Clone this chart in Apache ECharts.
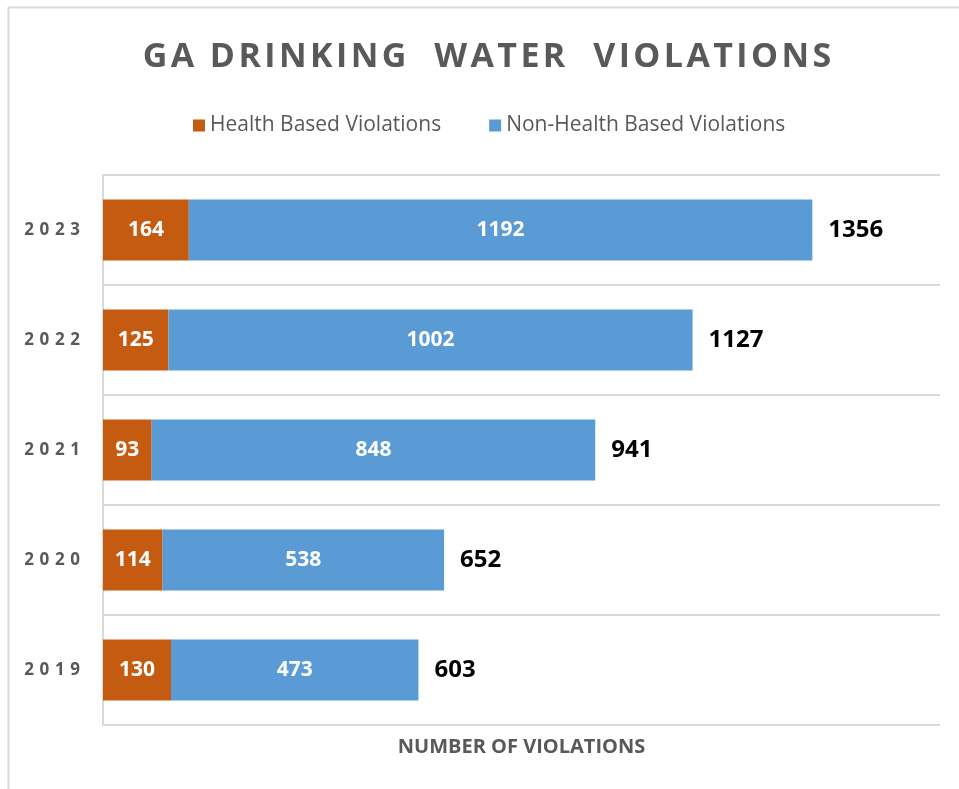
<!DOCTYPE html>
<html>
<head>
<meta charset="utf-8">
<script src="https://cdn.jsdelivr.net/npm/echarts@6/dist/echarts.min.js"></script>
<style>
  html, body { margin: 0; padding: 0; background: #fff; }
  #chart { width: 959px; height: 789px; }
</style>
</head>
<body>
<div id="chart"></div>
<script>
const years = ["2019", "2020", "2021", "2022", "2023"];
const healthBased = [130, 114, 93, 125, 164];
const nonHealthBased = [473, 538, 848, 1002, 1192];
const totals = years.map((y, i) => healthBased[i] + nonHealthBased[i]);

// spread letters out a bit, the original uses wide letter spacing
const spread = (s, sp) => s.split("").join(sp);

const myChart = echarts.init(document.getElementById("chart"));
const option = {
  backgroundColor: "#fff",
  animation: false,
  textStyle: { fontFamily: "Open Sans" },
  graphic: [
    // frame edges of the original chart box (top + left)
    { type: "line", shape: { x1: 8, y1: 7.5, x2: 959, y2: 7.5 }, style: { stroke: "#d9d9d9", lineWidth: 2 } },
    { type: "line", shape: { x1: 8.5, y1: 7, x2: 8.5, y2: 789 }, style: { stroke: "#d9d9d9", lineWidth: 2 } },
  ],
  title: {
    text: spread("GA DRINKING  WATER  VIOLATIONS", "\u200A"),
    left: 482,
    textAlign: "center",
    top: 35,
    textStyle: {
      color: "#595959",
      fontSize: 34,
      fontWeight: "bold",
      fontFamily: "Open Sans",
    },
  },
  legend: {
    data: ["Health Based Violations", "Non-Health Based Violations"],
    top: 110,
    left: 188,
    itemWidth: 12,
    itemHeight: 12,
    itemGap: 48,
    icon: "rect",
    textStyle: { color: "#595959", fontSize: 21, fontFamily: "Open Sans" },
  },
  grid: {
    left: 103,
    right: 19,
    top: 175,
    bottom: 64,
  },
  xAxis: {
    type: "value",
    min: 0,
    max: 1600,
    interval: 200,
    axisLabel: { show: false },
    axisLine: { show: false },
    axisTick: { show: false },
    splitLine: { show: false },
    name: "NUMBER OF VIOLATIONS",
    nameLocation: "middle",
    nameGap: 12,
    nameTextStyle: { color: "#595959", fontSize: 20, fontWeight: "bold", verticalAlign: "top" },
  },
  yAxis: {
    type: "category",
    data: years,
    axisLine: { show: true, lineStyle: { color: "#d9d9d9", width: 2 } },
    axisTick: { show: false },
    axisLabel: {
      color: "#595959",
      fontSize: 17,
      fontWeight: "bold",
      margin: 23,
      formatter: (v) => spread(v, "\u2004"),
    },
    splitLine: { show: true, lineStyle: { color: "#d9d9d9", width: 2 } },
  },
  series: [
    {
      name: "Health Based Violations",
      type: "bar",
      stack: "v",
      barWidth: 61,
      itemStyle: { color: "#C55A11" },
      label: { show: true, position: "inside", color: "#fff", fontSize: 21, fontWeight: "bold" },
      data: healthBased,
    },
    {
      name: "Non-Health Based Violations",
      type: "bar",
      stack: "v",
      barWidth: 61,
      itemStyle: { color: "#5B9BD5" },
      label: { show: true, position: "inside", color: "#fff", fontSize: 21, fontWeight: "bold" },
      data: nonHealthBased,
    },
    {
      name: "Total",
      type: "bar",
      barWidth: 61,
      barGap: "-100%",
      z: 1,
      itemStyle: { color: "transparent" },
      label: { show: true, position: "right", distance: 16, color: "#000", fontSize: 24, fontWeight: "bold" },
      data: totals,
    },
  ],
};
myChart.setOption(option);
</script>
</body>
</html>
